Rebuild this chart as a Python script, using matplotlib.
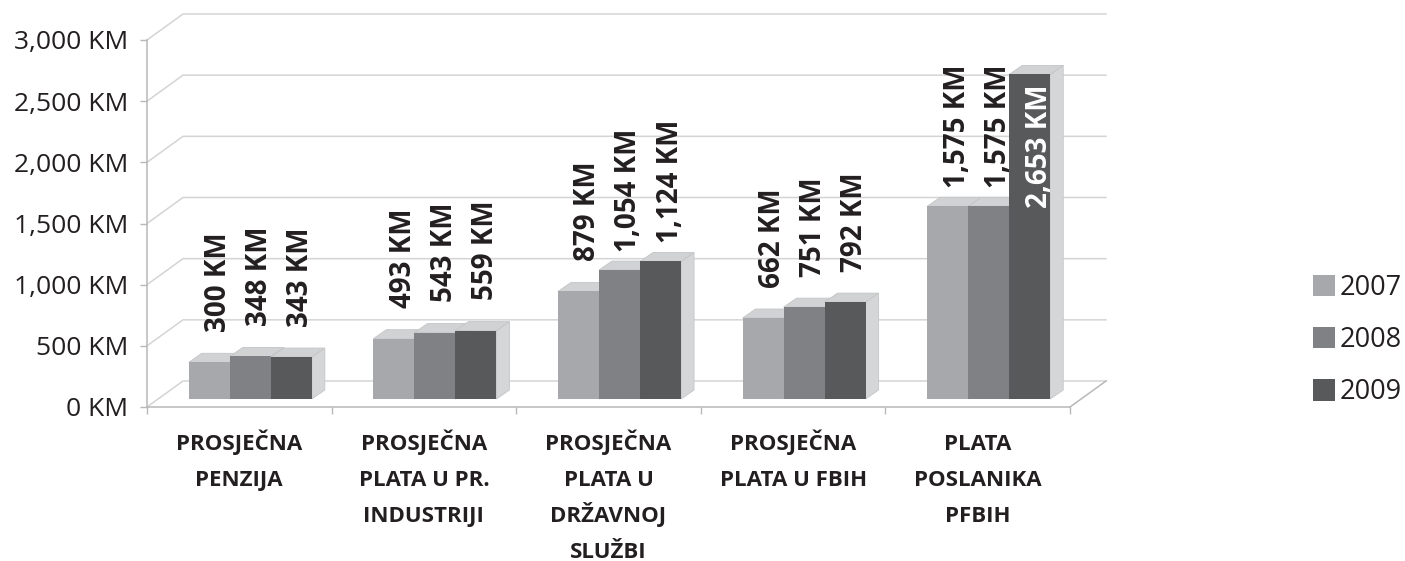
import matplotlib
matplotlib.use("Agg")
import matplotlib.pyplot as plt
from matplotlib.patches import Polygon, Patch

categories = ["PROSJEČNA\nPENZIJA", "PROSJEČNA\nPLATA U PR.\nINDUSTRIJI",
              "PROSJEČNA\nPLATA U\nDRŽAVNOJ\nSLUŽBI", "PROSJEČNA\nPLATA U FBIH",
              "PLATA\nPOSLANIKA\nPFBIH"]
series_names = ["2007", "2008", "2009"]
values_2007 = [300, 493, 879, 662, 1575]
values_2008 = [348, 543, 1054, 751, 1575]
values_2009 = [343, 559, 1124, 792, 2653]
series_values = [values_2007, values_2008, values_2009]
y_ticks = [0, 500, 1000, 1500, 2000, 2500, 3000]

front_colors = ["#a7a8ac", "#808185", "#58595b"]
top_color = "#d1d2d4"
side_color = "#d5d6d8"
grid_color = "#d4d4d4"
axis_color = "#b8b8b8"
text_color = "#231f20"

FW, FH = 1405, 561
fig = plt.figure(figsize=(FW / 100, FH / 100), dpi=100)
ax_l, ax_r, ax_b, ax_t = 147, 1070, 407, 40
ax = fig.add_axes([ax_l / FW, (FH - ax_b) / FH, (ax_r - ax_l) / FW, (ax_b - ax_t) / FH])
ncat = len(categories)
ymax = 3000
ax.set_xlim(0, ncat)
ax.set_ylim(0, ymax)

# pixel -> data unit conversion
ux = ncat / (ax_r - ax_l)
uy = ymax / (ax_b - ax_t)

# depth of the chart box, bar offset inside box, bar depth
Dx, Dy = 36 * ux, 26 * uy
Bx, By = 11 * ux, 8 * uy
Tx, Ty = 13 * ux, 9 * uy

# side wall + back wall gridlines
for v in y_ticks:
    ax.plot([0, Dx, ncat + Dx], [v, v + Dy, v + Dy], color=grid_color, lw=1.1,
            clip_on=False, zorder=1)
# floor right edge
ax.plot([ncat, ncat + Dx], [0, Dy], color=axis_color, lw=1.1, clip_on=False, zorder=1)

nser = len(series_values)
bw = 0.2222
start = 0.5 - nser * bw / 2
for i in range(ncat):
    for j in range(nser):
        v = series_values[j][i]
        x0 = i + start + j * bw + Bx
        y0 = By
        side = Polygon([(x0 + bw, y0), (x0 + bw + Tx, y0 + Ty), (x0 + bw + Tx, y0 + v + Ty),
                        (x0 + bw, y0 + v)], closed=True, facecolor=side_color,
                       edgecolor="#c4c5c7", lw=0.6, clip_on=False, zorder=3)
        top = Polygon([(x0, y0 + v), (x0 + bw, y0 + v), (x0 + bw + Tx, y0 + v + Ty),
                       (x0 + Tx, y0 + v + Ty)], closed=True, facecolor=top_color,
                      edgecolor="#c4c5c7", lw=0.6, clip_on=False, zorder=3)
        front = Polygon([(x0, y0), (x0 + bw, y0), (x0 + bw, y0 + v), (x0, y0 + v)],
                        closed=True, facecolor=front_colors[j], edgecolor="none",
                        clip_on=False, zorder=3)
        ax.add_patch(side)
        ax.add_patch(top)
        ax.add_patch(front)
        label = f"{v:,} KM"
        if v > 2500:
            ax.annotate(label, (x0 + bw / 2, y0 + v), xytext=(9.5, -10),
                        textcoords="offset pixels", rotation=90, ha="center", va="top",
                        fontsize=20, fontweight="bold", family="Open Sans",
                        color="white", zorder=5, annotation_clip=False)
        else:
            ax.annotate(label, (x0 + bw / 2, y0 + v), xytext=(9.5, 80),
                        textcoords="offset pixels", rotation=90, ha="center", va="center",
                        fontsize=20, fontweight="bold", family="Open Sans",
                        color=text_color, zorder=5, annotation_clip=False)

# axes styling
for s in ["top", "right"]:
    ax.spines[s].set_visible(False)
for s in ["left", "bottom"]:
    ax.spines[s].set_color(axis_color)
    ax.spines[s].set_linewidth(1.1)
    ax.spines[s].set_zorder(2)
ax.set_yticks(y_ticks)
ax.set_yticklabels([f"{t:,} KM" for t in y_ticks])
ax.tick_params(axis="y", direction="out", length=5, width=1, color=axis_color,
               pad=8.5, labelsize=19, labelcolor=text_color)
for lab in ax.get_yticklabels():
    lab.set_family("Open Sans")

# category labels: one text per line at a fixed line pitch
ax.set_xticks([i + 0.5 for i in range(ncat)])
ax.set_xticklabels([""] * ncat)
ax.set_xticks(list(range(ncat + 1)), minor=True)
ax.tick_params(axis="x", which="major", length=0)
ax.tick_params(axis="x", which="minor", direction="out", length=5, width=1, color=axis_color)
for i, cat in enumerate(categories):
    for k, line in enumerate(cat.split("\n")):
        ax.annotate(line, (i + 0.5, 0), xytext=(0, -43 - 36 * k),
                    textcoords="offset pixels", ha="center", va="baseline",
                    fontsize=16, fontweight="bold", family="Open Sans",
                    color=text_color, annotation_clip=False)
ax.set_facecolor("none")

handles = [Patch(facecolor=c, edgecolor="none") for c in front_colors]
leg = fig.legend(handles, series_names, loc="center left",
                 bbox_to_anchor=(1313 / FW, (FH - 340) / FH), frameon=False,
                 prop={"family": "Open Sans", "size": 19.5}, handlelength=0.82,
                 handleheight=0.82, handletextpad=0.15, labelspacing=0.9,
                 borderpad=0, borderaxespad=0)
for t in leg.get_texts():
    t.set_color(text_color)

fig.savefig("out.png", dpi=100)
